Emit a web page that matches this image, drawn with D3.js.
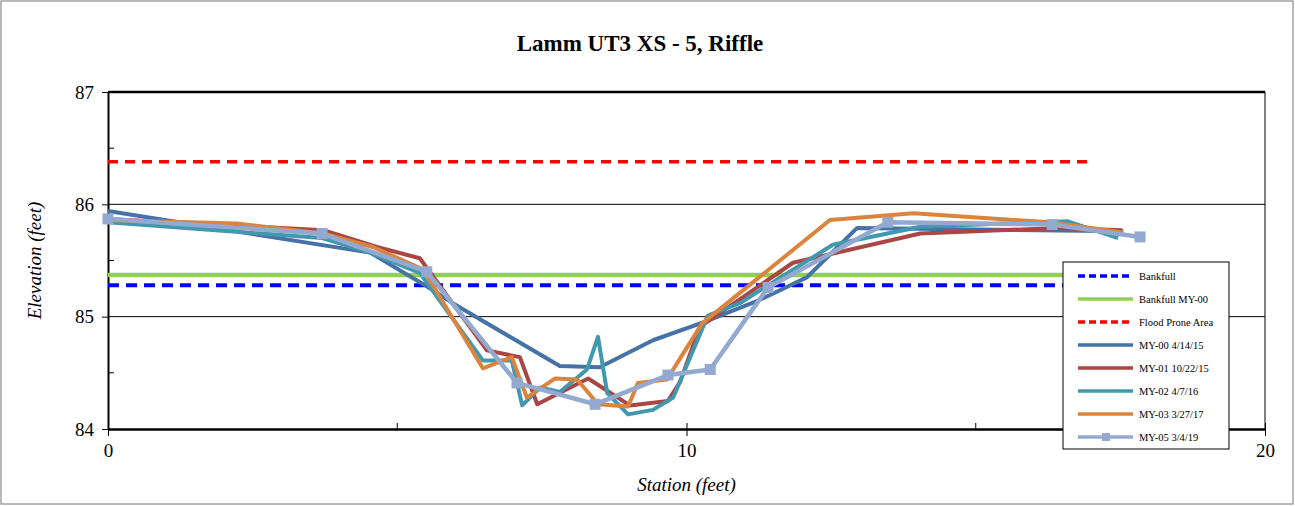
<!DOCTYPE html>
<html>
<head>
<meta charset="utf-8">
<script src="https://d3js.org/d3.v7.min.js"></script>
<style>
  body { margin: 0; background: #fff; }
  svg text { font-family: "Liberation Serif", "Times New Roman", Times, "DejaVu Serif", serif !important; }
</style>
</head>
<body>
<svg id="chart" width="1295" height="506"></svg>
<script>
// station / elevation pairs
var my00Station = [0, 4.53, 5.48, 5.96, 7.81, 8.50, 9.42, 10.29, 11.27, 12.08, 12.95, 17.55];
var my00Elev    = [85.94, 85.57, 85.28, 85.12, 84.56, 84.55, 84.79, 84.95, 85.15, 85.35, 85.79, 85.76];

var my01Station = [0, 3.72, 4.65, 5.39, 6.55, 7.12, 7.42, 8.30, 9.02, 9.68, 9.89, 10.23, 11.84, 14.04, 16.46, 17.53];
var my01Elev    = [85.87, 85.77, 85.62, 85.52, 84.70, 84.64, 84.22, 84.45, 84.21, 84.25, 84.42, 84.91, 85.48, 85.74, 85.79, 85.77];

var my02Station = [0, 3.70, 4.53, 5.39, 6.48, 6.98, 7.16, 7.47, 7.81, 8.28, 8.47, 8.63, 8.99, 9.42, 9.77, 10.37, 10.92, 12.53, 14.04, 16.58, 17.46];
var my02Elev    = [85.84, 85.70, 85.57, 85.39, 84.61, 84.61, 84.21, 84.37, 84.33, 84.53, 84.82, 84.32, 84.13, 84.17, 84.28, 85.01, 85.12, 85.64, 85.80, 85.85, 85.70];

var my03Station = [0, 2.23, 3.72, 4.58, 5.45, 6.48, 6.98, 7.24, 7.73, 8.11, 8.47, 8.99, 9.16, 9.66, 10.27, 12.48, 13.92, 16.28, 17.55];
var my03Elev    = [85.86, 85.83, 85.74, 85.62, 85.42, 84.54, 84.64, 84.28, 84.45, 84.44, 84.22, 84.20, 84.41, 84.44, 84.94, 85.86, 85.92, 85.84, 85.75];

var my05Station = [0, 3.70, 5.51, 7.07, 8.42, 9.68, 10.41, 11.41, 13.48, 16.32, 17.84];
var my05Elev    = [85.87, 85.74, 85.40, 84.41, 84.22, 84.48, 84.53, 85.26, 85.84, 85.82, 85.71];

// horizontal reference elevations
var refStation = [0, 16.94];
var bankfullElev = 85.28;
var bankfullMY00Elev = 85.37;
var floodProneElev = 86.38;

var xTicks = [0, 10, 20];
var yTicks = [84, 85, 86, 87];

var serif = '"Liberation Serif", "Times New Roman", Times, "DejaVu Serif", serif';

var svg = d3.select('#chart'),
    margin = {top: 92, right: 30, bottom: 77, left: 108},
    width = +svg.attr("width") - margin.left - margin.right,
    height = +svg.attr("height") - margin.top - margin.bottom;

// outer chart frame
svg.append("rect")
   .attr("x", 1).attr("y", 1)
   .attr("width", 1292).attr("height", 503)
   .attr("fill", "#fff")
   .attr("stroke", "#8c8c8c")
   .attr("stroke-width", 1.2);

svg.append("text")
   .attr("x", 640).attr("y", 51)
   .attr("text-anchor", "middle")
   .attr("font-family", serif)
   .attr("font-size", 23)
   .attr("font-weight", "bold")
   .text("Lamm UT3 XS - 5, Riffle");

var g = svg.append("g").attr("transform", "translate(" + margin.left + "," + margin.top + ")");

var x = d3.scaleLinear().domain([0, 20]).range([0, width]);
var y = d3.scaleLinear().domain([84, 87]).range([height, 0]);

// gridlines
g.selectAll(".grid")
 .data([85, 86])
 .enter().append("line")
 .attr("x1", 0).attr("x2", width)
 .attr("y1", function (d) { return y(d); })
 .attr("y2", function (d) { return y(d); })
 .attr("stroke", "#000")
 .attr("stroke-width", 1);

// right border + top border
g.append("line").attr("x1", width).attr("x2", width).attr("y1", 0).attr("y2", height)
 .attr("stroke", "#000").attr("stroke-width", 1);
g.append("line").attr("x1", 0).attr("x2", width).attr("y1", 0).attr("y2", 0)
 .attr("stroke", "#000").attr("stroke-width", 2.5);

// minor ticks inside
g.selectAll(".xminor")
 .data([5, 15])
 .enter().append("line")
 .attr("x1", function (d) { return x(d); })
 .attr("x2", function (d) { return x(d); })
 .attr("y1", height).attr("y2", height - 6)
 .attr("stroke", "#000");
g.selectAll(".yminor")
 .data([84.5, 85.5, 86.5])
 .enter().append("line")
 .attr("x1", 0).attr("x2", 6)
 .attr("y1", function (d) { return y(d); })
 .attr("y2", function (d) { return y(d); })
 .attr("stroke", "#000");

var xAxis = g.append("g")
 .attr("transform", "translate(0," + height + ")")
 .call(d3.axisBottom(x).tickValues(xTicks).tickFormat(d3.format("d"))
        .tickSizeInner(7).tickSizeOuter(0).tickPadding(8));
var yAxis = g.append("g")
 .call(d3.axisLeft(y).tickValues(yTicks).tickFormat(d3.format("d"))
        .tickSizeInner(6).tickSizeOuter(0).tickPadding(8));

[xAxis, yAxis].forEach(function (a) {
   a.attr("font-family", serif);
   a.selectAll("text").attr("font-size", 19).attr("fill", "#000");
   a.selectAll("line").attr("stroke", "#000");
});
xAxis.select(".domain").attr("stroke", "#000").attr("stroke-width", 2.5);
yAxis.select(".domain").attr("stroke", "#000").attr("stroke-width", 2);
xAxis.selectAll(".tick line").attr("y1", -6);

svg.append("text")
   .attr("x", margin.left + width / 2).attr("y", 491)
   .attr("text-anchor", "middle")
   .attr("font-family", serif)
   .attr("font-size", 19).attr("font-style", "italic")
   .text("Station (feet)");

svg.append("text")
   .attr("transform", "translate(41," + (margin.top + height / 2) + ") rotate(-90)")
   .attr("text-anchor", "middle")
   .attr("font-family", serif)
   .attr("font-size", 19).attr("font-style", "italic")
   .text("Elevation (feet)");

var line = d3.line()
   .x(function (d) { return x(d[0]); })
   .y(function (d) { return y(d[1]); });

function pairs(s, e) {
   return s.map(function (v, i) { return [v, e[i]]; });
}

var series = [
   {name: "Bankfull", data: pairs(refStation, [bankfullElev, bankfullElev]), color: "#0000ff", width: 4, dash: "11,7"},
   {name: "Bankfull MY-00", data: pairs(refStation, [bankfullMY00Elev, bankfullMY00Elev]), color: "#92d050", width: 4.5},
   {name: "Flood Prone Area", data: pairs(refStation, [floodProneElev, floodProneElev]), color: "#ff0000", width: 3.5, dash: "10,7"},
   {name: "MY-00 4/14/15", data: pairs(my00Station, my00Elev), color: "#4572a7", width: 4},
   {name: "MY-01 10/22/15", data: pairs(my01Station, my01Elev), color: "#aa4643", width: 4},
   {name: "MY-02 4/7/16", data: pairs(my02Station, my02Elev), color: "#4198af", width: 4},
   {name: "MY-03 3/27/17", data: pairs(my03Station, my03Elev), color: "#db843d", width: 4},
   {name: "MY-05 3/4/19", data: pairs(my05Station, my05Elev), color: "#93a9cf", width: 4.5, marker: true}
];

series.forEach(function (s) {
   g.append("path")
    .datum(s.data)
    .attr("d", line)
    .attr("fill", "none")
    .attr("stroke", s.color)
    .attr("stroke-width", s.width)
    .attr("stroke-linejoin", "round")
    .attr("stroke-dasharray", s.dash || null);
   if (s.marker) {
      g.selectAll(".mk")
       .data(s.data)
       .enter().append("rect")
       .attr("x", function (d) { return x(d[0]) - 5.5; })
       .attr("y", function (d) { return y(d[1]) - 5.5; })
       .attr("width", 11).attr("height", 11)
       .attr("fill", s.color);
   }
});

// legend
var leg = svg.append("g").attr("transform", "translate(1063,262)");
leg.append("rect")
   .attr("width", 166).attr("height", 187)
   .attr("fill", "#fff").attr("stroke", "#000").attr("stroke-width", 1);

var item = leg.selectAll(".item")
   .data(series)
   .enter().append("g")
   .attr("transform", function (d, i) { return "translate(0," + (14 + i * 23) + ")"; });

item.append("line")
   .attr("x1", 15).attr("x2", 70)
   .attr("stroke", function (d) { return d.color; })
   .attr("stroke-width", 3.5)
   .attr("stroke-dasharray", function (d) { return d.dash ? "7,4" : null; });

item.filter(function (d) { return d.marker; })
   .append("rect")
   .attr("x", 39).attr("y", -4).attr("width", 8).attr("height", 8)
   .attr("fill", function (d) { return d.color; });

item.append("text")
   .attr("x", 76).attr("y", 3.5)
   .attr("font-family", serif)
   .attr("font-size", 10.5)
   .text(function (d) { return d.name; });
</script>
</body>
</html>
